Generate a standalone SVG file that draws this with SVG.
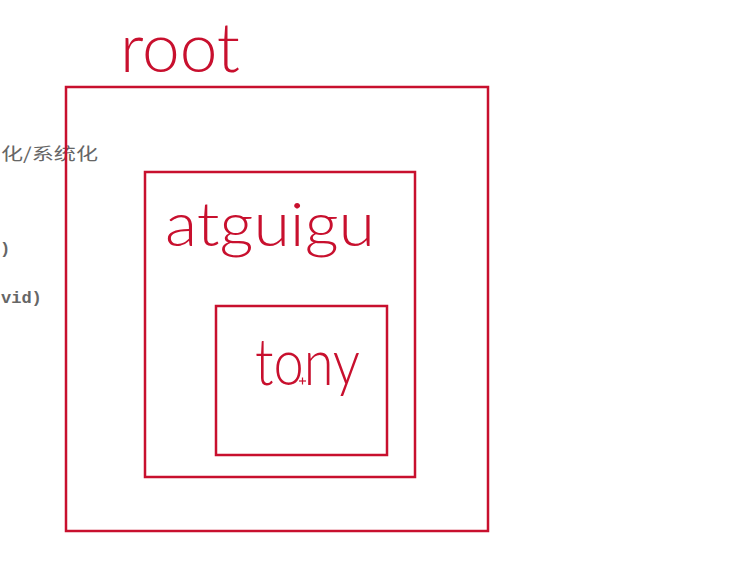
<svg xmlns="http://www.w3.org/2000/svg" width="752" height="566" viewBox="0 0 752 566">
<style>
.box{fill:none;stroke:#c8102e;stroke-width:2.5}
.hand{fill:#c8102e;font-family:Lato,"Open Sans",sans-serif;font-weight:300}
.bg{fill:#666;font-size:17px}
</style>
<rect width="752" height="566" fill="#fff"/>
<g id="background-text">
<text class="bg" x="1" y="160" font-family="'Noto Sans CJK SC',sans-serif" font-size="19" textLength="97" lengthAdjust="spacingAndGlyphs">化/系统化</text>
<text class="bg" x="0" y="254" font-family="'Liberation Mono',monospace" font-weight="bold" font-size="16">)</text>
<text class="bg" x="1" y="303" font-family="'Liberation Mono',monospace" font-weight="bold" font-size="16">vid)</text>
</g>
<g id="root">
<rect class="box" x="66" y="87" width="422" height="444"/>
<text class="hand" x="120" y="72" font-size="68" textLength="120" lengthAdjust="spacingAndGlyphs">root</text>
</g>
<g id="atguigu">
<rect class="box" x="145" y="172" width="270" height="305"/>
<text class="hand" x="165" y="246" font-size="62" textLength="210" lengthAdjust="spacingAndGlyphs">atguigu</text>
</g>
<g id="tony">
<rect class="box" x="216" y="306" width="171" height="149"/>
<text class="hand" x="255" y="385" font-size="66" textLength="105" lengthAdjust="spacingAndGlyphs">tony</text>
</g>
<g id="cursor" stroke="#c8102e" stroke-width="1.2">
<line x1="299" y1="381" x2="306" y2="381"/>
<line x1="302.5" y1="377.5" x2="302.5" y2="384.5"/>
</g>
<g id="connectors"/>
</svg>
